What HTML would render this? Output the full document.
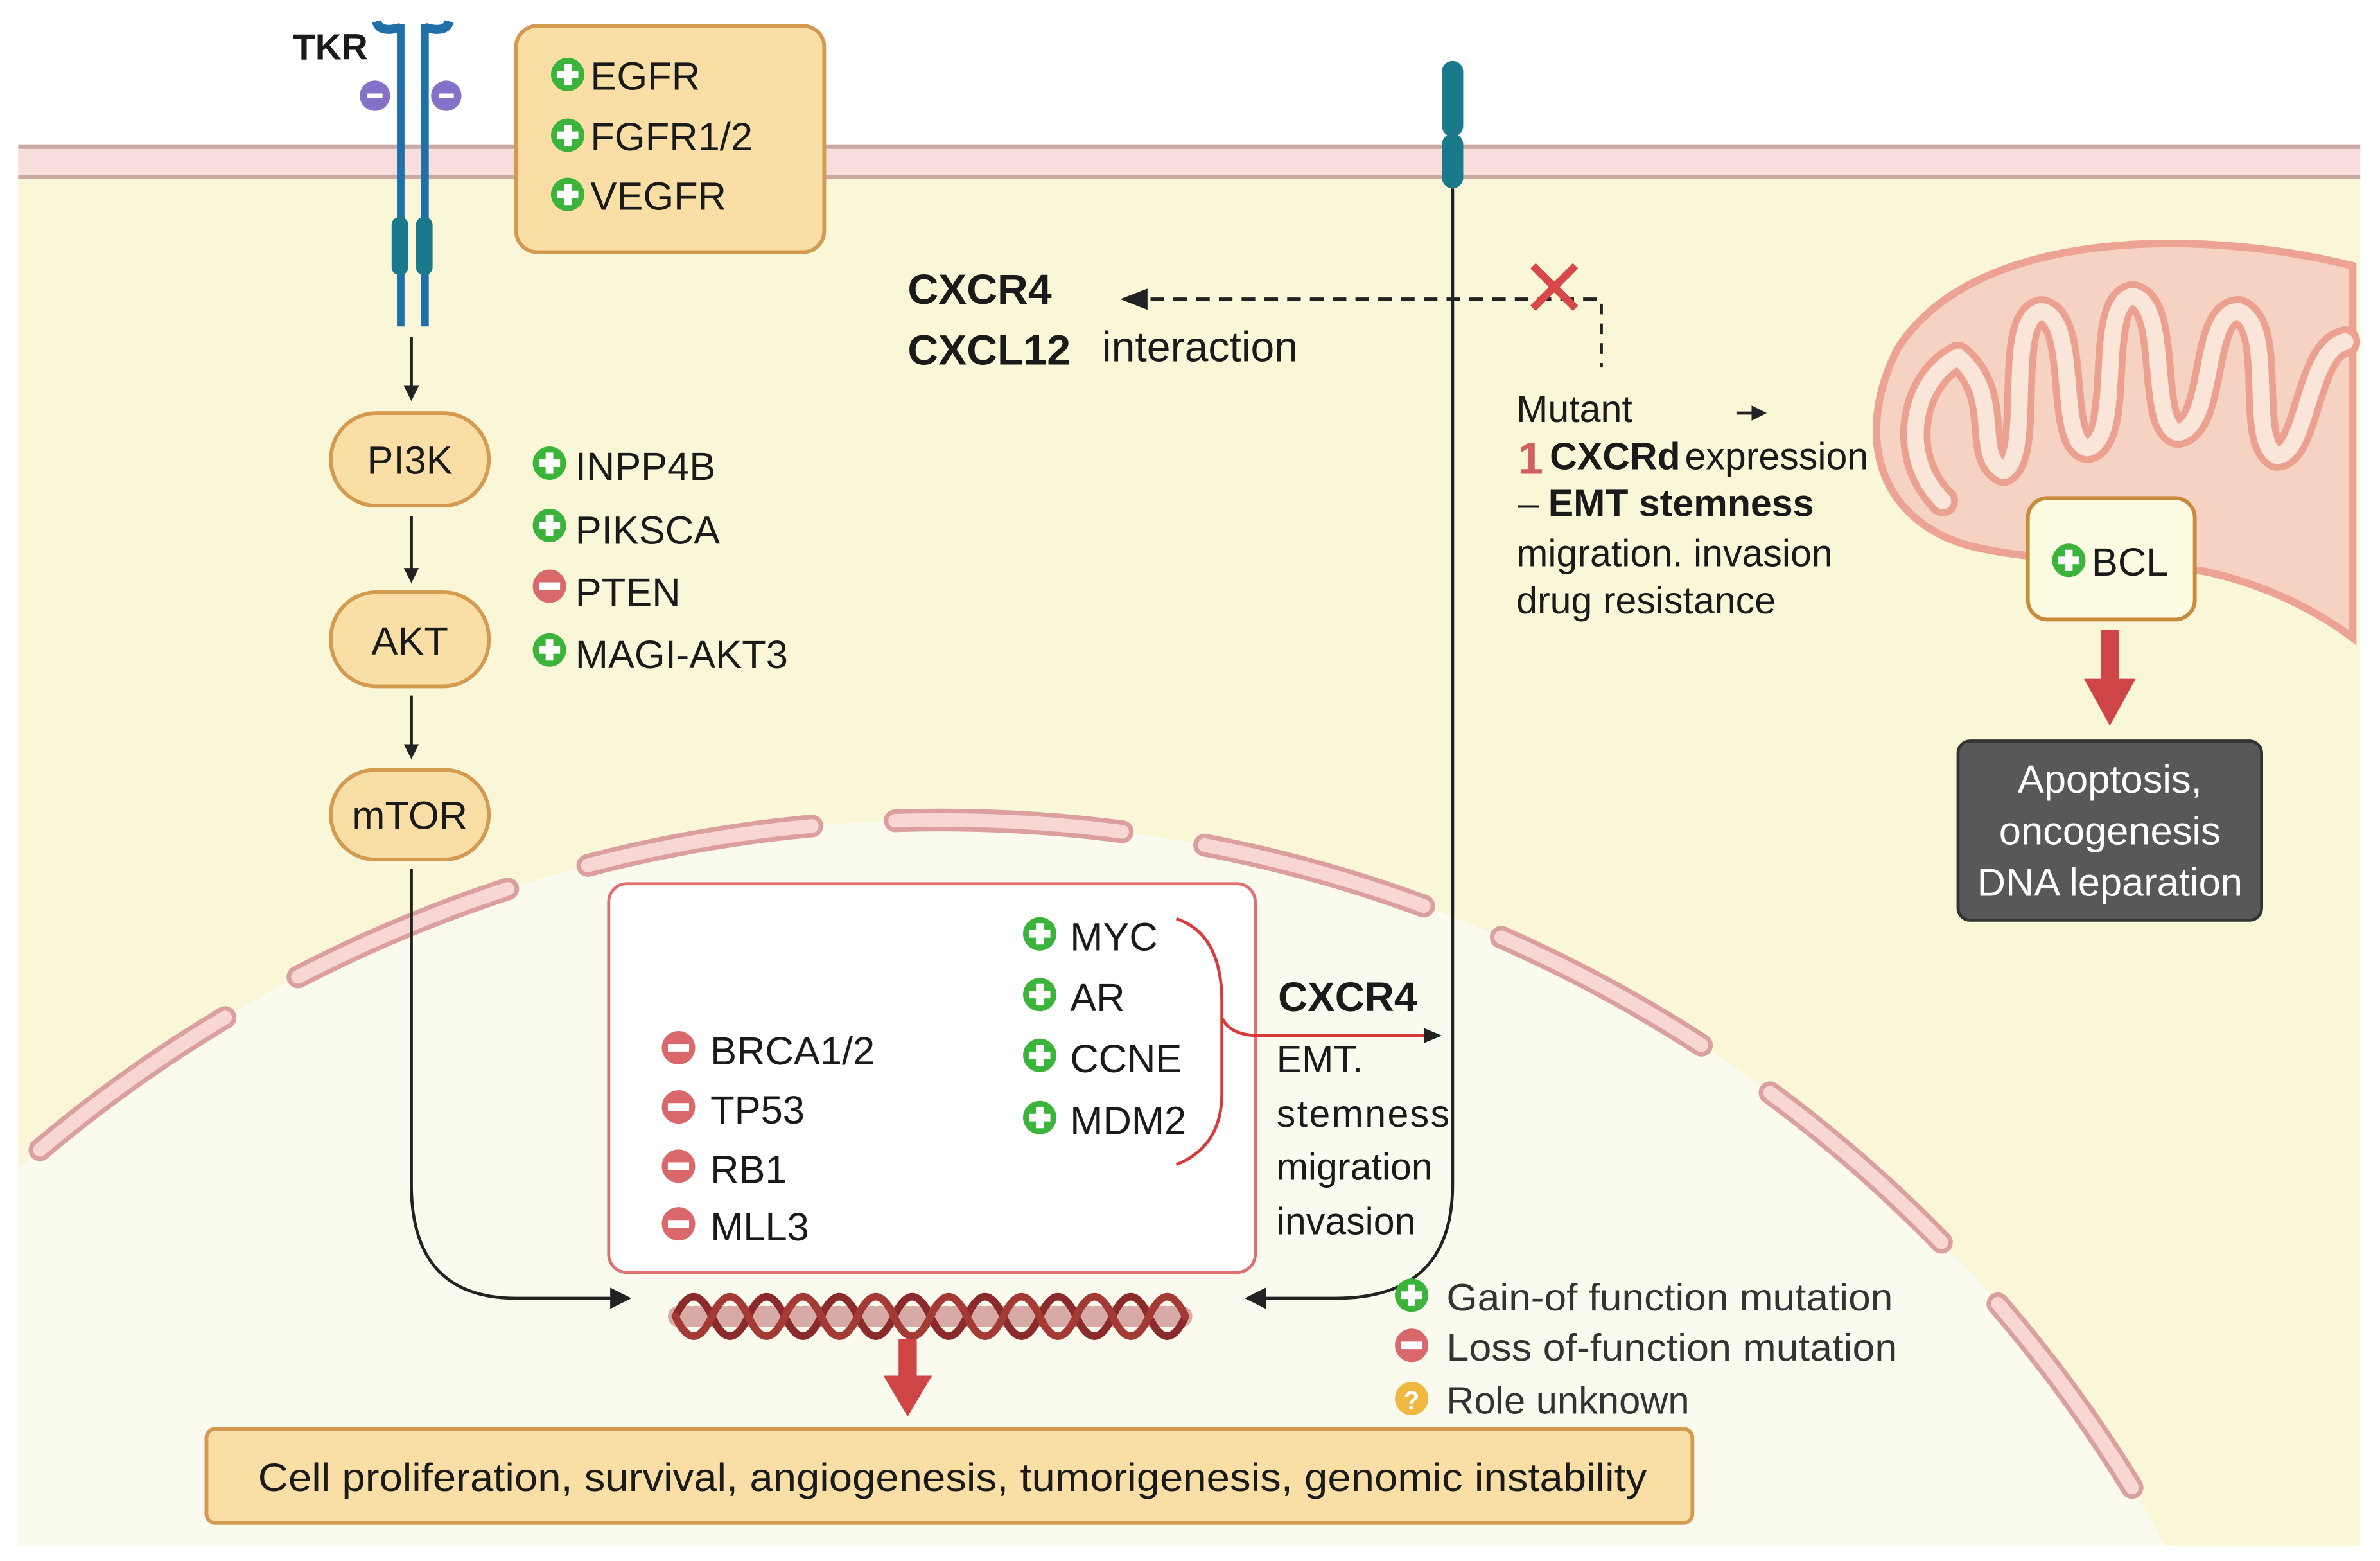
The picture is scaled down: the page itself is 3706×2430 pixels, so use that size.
<!DOCTYPE html>
<html><head><meta charset="utf-8"><style>
html,body{margin:0;padding:0;background:#fff;overflow:hidden;width:3706px;height:2430px;position:relative}
svg{display:block;overflow:hidden;position:absolute;left:0;top:0}
text{font-family:"Liberation Sans",sans-serif;fill:#1a1a1a}
.b{font-weight:bold}
</style></head><body>
<svg width="3706" height="2430" viewBox="0 0 1568 1028" xmlns="http://www.w3.org/2000/svg">
<defs>
<g id="plus"><circle r="11" fill="#3cb43c"/><rect x="-7" y="-2.5" width="14" height="5" fill="#fff"/><rect x="-2.5" y="-7" width="5" height="14" fill="#fff"/></g>
<g id="minus"><circle r="11" fill="#d9686a"/><rect x="-7" y="-2.5" width="14" height="5" fill="#fff"/></g>
<clipPath id="cell"><rect x="12" y="117" width="1543" height="901"/></clipPath>
<marker id="ah" markerWidth="10" markerHeight="10" refX="8" refY="5" orient="auto" markerUnits="userSpaceOnUse"><path d="M0,0 L10,5 L0,10 Z" fill="#222"/></marker>
<marker id="ahs" markerWidth="14" markerHeight="14" refX="12" refY="7" orient="auto" markerUnits="userSpaceOnUse"><path d="M0,0 L14,7 L0,14 Z" fill="#222"/></marker>
</defs>
<rect width="1568" height="1028" fill="#fff"/>
<rect x="12" y="117" width="1543" height="901" fill="#faf7d9"/>
<rect x="12" y="96" width="1543" height="21" fill="#f9dcdc"/>
<rect x="12" y="95" width="1543" height="3" fill="#c9a9a4"/>
<rect x="12" y="115" width="1543" height="3" fill="#c9a9a4"/>
<g clip-path="url(#cell)">
<ellipse cx="620" cy="1460" rx="920" ry="920" fill="#fbfaee"/>
<ellipse cx="620" cy="1460" rx="920" ry="920" fill="none" stroke="#dc9f9f" stroke-width="15" stroke-dasharray="150 55" stroke-linecap="round"/>
<ellipse cx="620" cy="1460" rx="920" ry="920" fill="none" stroke="#f8d6d3" stroke-width="9" stroke-dasharray="150 55" stroke-linecap="round"/>
<path d="M1550,175 C1450,150 1300,150 1250,230 C1220,290 1240,345 1300,360 C1350,372 1420,368 1460,378 C1500,388 1530,405 1550,420 Z" fill="#f6d2c2" stroke="#eca393" stroke-width="5"/>
<path d="M1280,330 C1250,300 1260,250 1290,235 C1320,260 1300,300 1320,310 C1340,300 1320,210 1345,205 C1370,210 1355,290 1375,295 C1400,290 1380,200 1405,195 C1430,200 1415,280 1435,285 C1460,280 1450,205 1475,205 C1500,215 1480,290 1500,300 C1520,300 1520,230 1545,225" fill="none" stroke="#eba090" stroke-width="20" stroke-linejoin="round" stroke-linecap="round"/>
<path d="M1280,330 C1250,300 1260,250 1290,235 C1320,260 1300,300 1320,310 C1340,300 1320,210 1345,205 C1370,210 1355,290 1375,295 C1400,290 1380,200 1405,195 C1430,200 1415,280 1435,285 C1460,280 1450,205 1475,205 C1500,215 1480,290 1500,300 C1520,300 1520,230 1545,225" fill="none" stroke="#fae6d8" stroke-width="11" stroke-linejoin="round" stroke-linecap="round"/>
</g>
<text x="193" y="39" class="b" font-size="24">TKR</text>
<g stroke="#1f6fa8" stroke-width="5" fill="none">
<path d="M264,215 V16 M280,215 V16"/>
<path d="M248,14 Q250,22 264,18 M296,14 Q294,22 280,18" stroke-width="6"/>
</g>
<rect x="258" y="143" width="11" height="38" rx="5" fill="#1a7a8c"/>
<rect x="274" y="143" width="11" height="38" rx="5" fill="#1a7a8c"/>
<circle cx="247" cy="63" r="10" fill="#8472c8"/><rect x="242" y="61.5" width="10" height="3" fill="#fff"/>
<circle cx="294" cy="63" r="10" fill="#8472c8"/><rect x="289" y="61.5" width="10" height="3" fill="#fff"/>
<rect x="340" y="17" width="203" height="149" rx="14" fill="#f9dfa6" stroke="#d39a50" stroke-width="2.5"/>
<use href="#plus" x="374" y="49"/><text x="389" y="59" font-size="26">EGFR</text>
<use href="#plus" x="374" y="89"/><text x="389" y="99" font-size="26">FGFR1/2</text>
<use href="#plus" x="374" y="128"/><text x="389" y="138" font-size="26">VEGFR</text>
<g stroke="#222" stroke-width="2" fill="none">
<path d="M271,222 V262" marker-end="url(#ah)"/>
<path d="M271,340 V382" marker-end="url(#ah)"/>
<path d="M271,458 V498" marker-end="url(#ah)"/>
<path d="M271,572 V780 Q271,855 340,855 H414" marker-end="url(#ahs)"/>
</g>
<rect x="218" y="272" width="104" height="61" rx="30" fill="#f9dfa6" stroke="#d39a50" stroke-width="2.5"/>
<text x="270" y="312" font-size="26" text-anchor="middle">PI3K</text>
<rect x="218" y="390" width="104" height="62" rx="30" fill="#f9dfa6" stroke="#d39a50" stroke-width="2.5"/>
<text x="270" y="431" font-size="26" text-anchor="middle">AKT</text>
<rect x="218" y="507" width="104" height="59" rx="29" fill="#f9dfa6" stroke="#d39a50" stroke-width="2.5"/>
<text x="270" y="546" font-size="26" text-anchor="middle">mTOR</text>
<use href="#plus" x="362" y="305"/><text x="379" y="316" font-size="26">INPP4B</text>
<use href="#plus" x="362" y="346"/><text x="379" y="358" font-size="26">PIKSCA</text>
<use href="#minus" x="362" y="386"/><text x="379" y="399" font-size="26">PTEN</text>
<use href="#plus" x="362" y="428"/><text x="379" y="440" font-size="26">MAGI-AKT3</text>
<text x="598" y="200" class="b" font-size="28">CXCR4</text>
<text x="598" y="240" class="b" font-size="28">CXCL12</text>
<text x="726" y="238" font-size="28">interaction</text>
<path d="M1052,197 H750" stroke="#222" stroke-width="2.2" stroke-dasharray="9 6" fill="none"/>
<path d="M738,197 L756,190 L756,204 Z" fill="#222"/>
<path d="M1055,200 V242" stroke="#222" stroke-width="2" stroke-dasharray="7 6"/>
<path d="M1010,175 L1038,203 M1038,175 L1010,203" stroke="#d84848" stroke-width="5"/>
<rect x="950" y="40" width="14" height="50" rx="7" fill="#1a7a8c"/>
<rect x="950" y="88" width="14" height="36" rx="7" fill="#1a7a8c"/>
<path d="M957,124 V780 Q957,855 880,855 H822" stroke="#222" stroke-width="2" fill="none" marker-end="url(#ahs)"/>
<text x="999" y="278" font-size="25">Mutant</text>
<path d="M1144,272 H1162" stroke="#222" stroke-width="2" marker-end="url(#ah)"/>
<text x="1000" y="312" font-size="30" style="fill:#d06060" class="b">1</text>
<text x="1021" y="309" class="b" font-size="25">CXCRd</text><text x="1110" y="309" font-size="25">expression</text>
<text x="1000" y="340" font-size="25">–</text><text x="1020" y="340" class="b" font-size="25">EMT stemness</text>
<text x="999" y="373" font-size="25">migration. invasion</text>
<text x="999" y="404" font-size="25">drug resistance</text>
<rect x="1336" y="328" width="110" height="80" rx="13" fill="#fdfbe2" stroke="#c98a3a" stroke-width="2.5"/>
<use href="#plus" x="1363" y="369"/><text x="1378" y="379" font-size="26">BCL</text>
<rect x="1384" y="415" width="12" height="34" fill="#cf4444"/>
<path d="M1373,447 L1407,447 L1390,478 Z" fill="#cf4444"/>
<rect x="1290" y="488" width="200" height="118" rx="8" fill="#585858" stroke="#333" stroke-width="2"/>
<text x="1390" y="522" font-size="26" text-anchor="middle" style="fill:#fff">Apoptosis,</text>
<text x="1390" y="556" font-size="26" text-anchor="middle" style="fill:#fff">oncogenesis</text>
<text x="1390" y="590" font-size="26" text-anchor="middle" style="fill:#fff">DNA leparation</text>
<rect x="401" y="582" width="426" height="256" rx="12" fill="#fff" stroke="#e07070" stroke-width="2"/>
<use href="#minus" x="447" y="690"/><text x="468" y="701" font-size="26">BRCA1/2</text>
<use href="#minus" x="447" y="729"/><text x="468" y="740" font-size="26">TP53</text>
<use href="#minus" x="447" y="768"/><text x="468" y="779" font-size="26">RB1</text>
<use href="#minus" x="447" y="806"/><text x="468" y="817" font-size="26">MLL3</text>
<use href="#plus" x="685" y="615"/><text x="705" y="626" font-size="26">MYC</text>
<use href="#plus" x="685" y="655"/><text x="705" y="666" font-size="26">AR</text>
<use href="#plus" x="685" y="695"/><text x="705" y="706" font-size="26">CCNE</text>
<use href="#plus" x="685" y="736"/><text x="705" y="747" font-size="26">MDM2</text>
<path d="M775,605 Q805,615 805,660 V720 Q805,755 775,767" stroke="#d83a3a" stroke-width="2" fill="none"/>
<path d="M805,670 Q810,682 830,682 H940" stroke="#d83a3a" stroke-width="2" fill="none"/>
<path d="M950,682 L938,677 L938,687 Z" fill="#222"/>
<text x="842" y="666" class="b" font-size="27">CXCR4</text>
<text x="841" y="706" font-size="25">EMT.</text>
<text x="841" y="742" font-size="25" textLength="114">stemness</text>
<text x="841" y="777" font-size="25">migration</text>
<text x="841" y="813" font-size="25">invasion</text>
<g fill="none" stroke-linecap="round">
<path d="M447,867 h333" stroke="#c98888" stroke-width="14" stroke-dasharray="1.5 4" opacity="0.7"/>
<path d="M445,867 q12,-26 24,0 t24,0 t24,0 t24,0 t24,0 t24,0 t24,0 t24,0 t24,0 t24,0 t24,0 t24,0 t24,0 t24,0" stroke="#8b2a2a" stroke-width="5"/>
<path d="M445,867 q12,26 24,0 t24,0 t24,0 t24,0 t24,0 t24,0 t24,0 t24,0 t24,0 t24,0 t24,0 t24,0 t24,0 t24,0" stroke="#a33a36" stroke-width="5"/>
</g>
<rect x="592" y="882" width="12" height="26" fill="#cf4444"/>
<path d="M582,906 L614,906 L598,933 Z" fill="#cf4444"/>
<rect x="136" y="941" width="979" height="62" rx="6" fill="#f9dfa6" stroke="#d39a50" stroke-width="2.5"/>
<text x="170" y="982" font-size="26" textLength="915" lengthAdjust="spacingAndGlyphs">Cell proliferation, survival, angiogenesis, tumorigenesis, genomic instability</text>
<use href="#plus" x="930" y="853"/><text x="953" y="863" font-size="25" style="fill:#333" textLength="294" lengthAdjust="spacingAndGlyphs">Gain-of function mutation</text>
<use href="#minus" x="930" y="886"/><text x="953" y="896" font-size="25" style="fill:#333" textLength="297" lengthAdjust="spacingAndGlyphs">Loss of-function mutation</text>
<circle cx="930" cy="921" r="11" fill="#f0b840"/><text x="930" y="928" font-size="17" text-anchor="middle" class="b" style="fill:#fff">?</text>
<text x="953" y="931" font-size="25" style="fill:#333" textLength="160" lengthAdjust="spacingAndGlyphs">Role unknown</text>
</svg>
</body></html>
